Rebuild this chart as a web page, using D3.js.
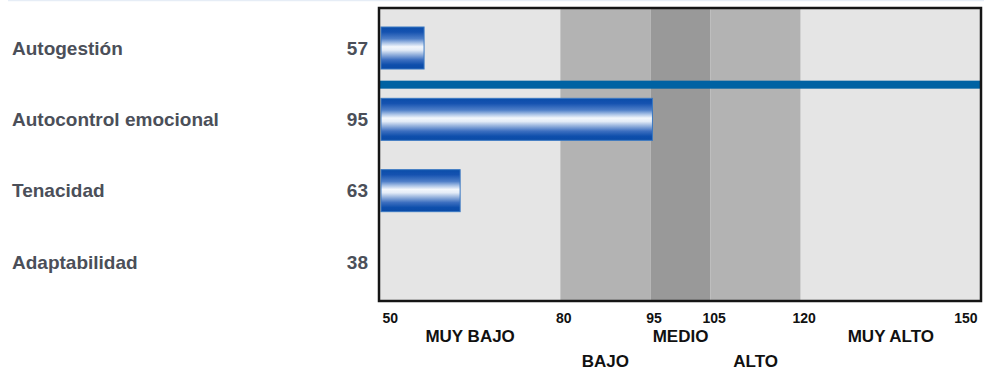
<!DOCTYPE html>
<html>
<head>
<meta charset="utf-8">
<script src="https://cdn.jsdelivr.net/npm/d3@7"></script>
<style>
  html, body { margin: 0; padding: 0; background: #ffffff; }
  svg { display: block; font-family: "Liberation Sans", Arial, sans-serif; }
</style>
</head>
<body>
<svg id="chart" width="984" height="372"></svg>
<script>
// Competency scores
const categories = ["Autogestión", "Autocontrol emocional", "Tenacidad", "Adaptabilidad"];
const scores = [57, 95, 63, 38];

// Scale thresholds and level names
const tickValues = [50, 80, 95, 105, 120, 150];
const levelNames = ["MUY BAJO", "BAJO", "MEDIO", "ALTO", "MUY ALTO"];
const levelFills = ["#e5e5e5", "#b3b3b3", "#999999", "#b3b3b3", "#e5e5e5"];

// Reference line drawn across the whole scale below the first row
const referenceValue = 150;

const svg = d3.select("#chart");

const x = d3.scaleLinear().domain([50, 150]).range([380, 981]);
const y = d3.scalePoint().domain(categories).range([48, 262]);

const plotTop = 8, plotBottom = 301;
const barH = 42;

// Faint rule at the top of the page
svg.append("line")
  .attr("x1", 8).attr("x2", 984).attr("y1", 0.5).attr("y2", 0.5)
  .attr("stroke", "#e6edf6").attr("stroke-width", 1.5);

// Gradient for the cylindrical bars
const defs = svg.append("defs");
const grad = defs.append("linearGradient")
  .attr("id", "barGrad").attr("x1", 0).attr("y1", 0).attr("x2", 0).attr("y2", 1);
[
  [0, "#0a4daa"], [0.12, "#1552b0"], [0.28, "#4f7fc8"], [0.38, "#a9c2e6"],
  [0.47, "#f3f7fc"], [0.55, "#e4ecf7"], [0.66, "#93b0dc"], [0.78, "#3d6fc0"],
  [0.9, "#0f4fac"], [1, "#0a4aa6"]
].forEach(([o, c]) => grad.append("stop").attr("offset", o).attr("stop-color", c));

// Level bands
const levels = levelNames.map((name, i) => ({
  name, from: tickValues[i], to: tickValues[i + 1], fill: levelFills[i], row: i % 2
}));

svg.append("g").selectAll("rect")
  .data(levels).join("rect")
  .attr("x", d => x(d.from))
  .attr("y", plotTop)
  .attr("width", d => x(d.to) - x(d.from))
  .attr("height", plotBottom - plotTop)
  .attr("fill", d => d.fill);

// Reference line
const refY = (y(categories[0]) + y(categories[1])) / 2 + 1;
svg.append("rect")
  .attr("x", x(50))
  .attr("y", refY - 4)
  .attr("width", x(referenceValue) - x(50))
  .attr("height", 8)
  .attr("fill", "#0062a3");

// Bars (scores below the scale start draw nothing)
const rows = categories.map((c, i) => ({ name: c, value: scores[i] }));
svg.append("g").selectAll("rect")
  .data(rows.filter(d => d.value > 50)).join("rect")
  .attr("x", x(50) + 1)
  .attr("y", d => y(d.name) - barH / 2)
  .attr("width", d => x(d.value) - x(50) + 1)
  .attr("height", barH)
  .attr("fill", "url(#barGrad)")
  .attr("stroke", "#3a78c2")
  .attr("stroke-width", 1);

// Plot frame
svg.append("rect")
  .attr("x", x(50) - 1)
  .attr("y", plotTop)
  .attr("width", x(150) - x(50) + 1)
  .attr("height", plotBottom - plotTop)
  .attr("fill", "none")
  .attr("stroke", "#151515")
  .attr("stroke-width", 2.5);

// Row labels and values
const labels = svg.append("g")
  .attr("font-size", 19).attr("font-weight", "bold").attr("fill", "#4b4f59");
labels.selectAll("text.name")
  .data(rows).join("text")
  .attr("class", "name")
  .attr("x", 12)
  .attr("y", d => y(d.name) + 6.6)
  .text(d => d.name);
labels.selectAll("text.value")
  .data(rows).join("text")
  .attr("class", "value")
  .attr("x", 368)
  .attr("y", d => y(d.name) + 6.6)
  .attr("text-anchor", "end")
  .text(d => d.value);

// Bottom axis with threshold values
const axis = svg.append("g")
  .attr("transform", `translate(0,${plotBottom})`)
  .call(d3.axisBottom(x).tickValues(tickValues).tickSize(0).tickPadding(0).tickFormat(d3.format("d")));
axis.select(".domain").remove();
axis.selectAll("text")
  .attr("font-family", "Liberation Sans, Arial, sans-serif")
  .attr("font-size", 14)
  .attr("font-weight", "bold")
  .attr("fill", "#111")
  .attr("dy", null)
  .attr("y", 22)
  .attr("dx", d => (d === 50 ? 2 : d === 150 ? -4 : 3))
  .attr("text-anchor", d => (d === 50 ? "start" : d === 150 ? "end" : "middle"));

// Level names, alternating between two rows
svg.append("g").selectAll("text")
  .data(levels).join("text")
  .attr("x", d => x((d.from + d.to) / 2))
  .attr("y", d => (d.row === 0 ? 342 : 367))
  .attr("text-anchor", "middle")
  .attr("font-size", 17)
  .attr("font-weight", "bold")
  .attr("fill", "#111")
  .text(d => d.name);
</script>
</body>
</html>
